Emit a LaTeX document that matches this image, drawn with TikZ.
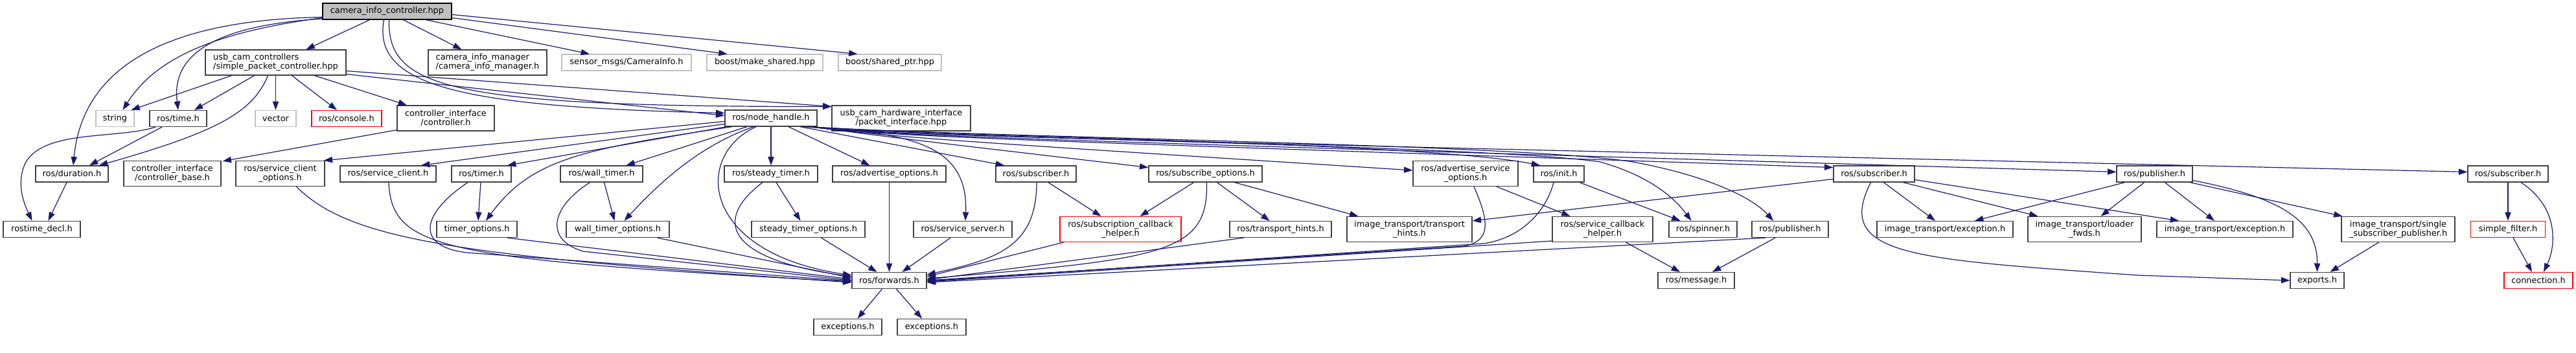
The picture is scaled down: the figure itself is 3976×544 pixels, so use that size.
\documentclass[tikz,border=0pt]{standalone}
\usepackage{fontspec}
\newfontfamily\dv{DejaVu Sans}
\usetikzlibrary{arrows.meta,calc}
\definecolor{edgeblue}{HTML}{191970}
\definecolor{ndgray}{HTML}{404040}
\definecolor{extgray}{HTML}{BFBFBF}
\definecolor{rootfill}{HTML}{BFBFBF}
\definecolor{nodered}{HTML}{FF0000}
\begin{document}
\begin{tikzpicture}[x=0.75pt,y=-0.75pt,
 nd/.style={draw=ndgray, line width=1pt, rectangle, inner sep=0pt, minimum height=18.75pt, font=\dv\fontsize{9.7}{10.5}\selectfont, align=center},
 extnd/.style={nd, draw=extgray},
 rednd/.style={nd, draw=nodered},
 rootnd/.style={nd, draw=black, fill=rootfill},
 bw/.style={minimum width=#1*0.75pt},
 tall/.style={minimum height=29.25pt},
 inc/.style={draw=edgeblue, line width=0.9pt, -{Triangle[length=10pt,width=7pt]}},
]
\fill[white] (0,0) rectangle (3976,544);
\useasboundingbox (0,0) rectangle (3976,544);

% nodes
\node[rootnd,bw=199] (C) at (597.5,17.5) {camera\_info\_controller.hpp};
\node[nd,bw=217,tall,align=left] (SPC) at (425.5,96.5) {usb\_cam\_controllers\\/simple\_packet\_controller.hpp};
\node[nd,bw=183,tall,align=left] (CIM) at (752.5,96.5) {camera\_info\_manager\\/camera\_info\_manager.h};
\node[extnd,bw=200] (SM) at (967,96.5) {sensor\_msgs/CameraInfo.h};
\node[extnd,bw=179] (MS) at (1180.5,96.5) {boost/make\_shared.hpp};
\node[extnd,bw=159] (SP) at (1373.5,96.5) {boost/shared\_ptr.hpp};
\node[extnd,bw=59] (STR) at (177.5,183) {string};
\node[nd,bw=88] (TIME) at (275,183) {ros/time.h};
\node[extnd,bw=63] (VEC) at (425.5,183) {vector};
\node[rednd,bw=108] (CON) at (535,183) {ros/console.h};
\node[nd,bw=150,tall] (CTRL) at (688,182.5) {controller\_interface\\/controller.h};
\node[nd,bw=142] (NH) at (1190,182.5) {ros/node\_handle.h};
\node[nd,bw=214,tall] (UHW) at (1391,182.5) {usb\_cam\_hardware\_interface\\/packet\_interface.hpp};
\node[nd,bw=112] (DUR) at (111,268.5) {ros/duration.h};
\node[nd,bw=150,tall] (CBASE) at (266,268) {controller\_interface\\/controller\_base.h};
\node[nd,bw=137,tall] (SCO) at (432.5,268) {ros/service\_client\\\_options.h};
\node[nd,bw=148] (SCL) at (599,268.5) {ros/service\_client.h};
\node[nd,bw=92] (TIMER) at (743,268.5) {ros/timer.h};
\node[nd,bw=127] (WT) at (928.5,268.5) {ros/wall\_timer.h};
\node[nd,bw=144] (ST) at (1190,268.5) {ros/steady\_timer.h};
\node[nd,bw=175] (AO) at (1372.5,268.5) {ros/advertise\_options.h};
\node[nd,bw=124] (SUB1) at (1599,268.5) {ros/subscriber.h};
\node[nd,bw=175] (SO) at (1860.5,268.5) {ros/subscribe\_options.h};
\node[nd,bw=162,tall] (ASO) at (2262,268) {ros/advertise\_service\\\_options.h};
\node[nd,bw=78] (INIT) at (2406,268.5) {ros/init.h};
\node[nd,bw=125] (SUB2) at (2892.5,268.5) {ros/subscriber.h};
\node[nd,bw=117] (PUB1) at (3325.5,268.5) {ros/publisher.h};
\node[nd,bw=124] (SUB3) at (3871,268.5) {ros/subscriber.h};
\node[nd,bw=119] (RTD) at (64.5,354) {rostime\_decl.h};
\node[nd,bw=124] (TO) at (736,354) {timer\_options.h};
\node[nd,bw=159] (WTO) at (953.5,354) {wall\_timer\_options.h};
\node[nd,bw=175] (STO) at (1247.5,354) {steady\_timer\_options.h};
\node[nd,bw=152] (SS) at (1486,354) {ros/service\_server.h};
\node[rednd,bw=187,tall] (SCH) at (1729.5,354) {ros/subscription\_callback\\\_helper.h};
\node[nd,bw=157] (RTH) at (1976.5,354) {ros/transport\_hints.h};
\node[nd,bw=193,tall] (ITH) at (2175.5,354) {image\_transport/transport\\\_hints.h};
\node[nd,bw=155,tall] (SCBH) at (2473.5,354) {ros/service\_callback\\\_helper.h};
\node[nd,bw=105] (SPIN) at (2628.5,354) {ros/spinner.h};
\node[nd,bw=118] (PUB2) at (2763,354) {ros/publisher.h};
\node[nd,bw=210] (EX1) at (3002,354) {image\_transport/exception.h};
\node[nd,bw=175,tall] (LF) at (3217.5,354) {image\_transport/loader\\\_fwds.h};
\node[nd,bw=210] (EX2) at (3434,354) {image\_transport/exception.h};
\node[nd,bw=175,tall] (SSP) at (3701.5,354) {image\_transport/single\\\_subscriber\_publisher.h};
\node[rednd,bw=115] (SF) at (3871,354) {simple\_filter.h};
\node[nd,bw=115] (FWD) at (1372.5,433) {ros/forwards.h};
\node[nd,bw=118] (MSG) at (2618,433) {ros/message.h};
\node[nd,bw=83] (EXP) at (3576.5,433) {exports.h};
\node[rednd,bw=106] (CONN) at (3918,433) {connection.h};
\node[nd,bw=105] (EXC1) at (1308.5,505) {exceptions.h};
\node[nd,bw=106] (EXC2) at (1438,505) {exceptions.h};

% edges from the root
\draw[inc] ($(C.south)+(-27,0)$) -- ($(SPC.north)+(47,0)$);
\draw[inc] ($(C.west)+(0,10)$) .. controls (330,50) and (240,90) .. ($(STR.north)+(12,0)$);
\draw[inc] ($(C.west)+(0,11.5)$) .. controls (320,40) and (265,90) .. (TIME.north);
\draw[inc] ($(C.west)+(0,9)$) .. controls (300,30) and (130,80) .. ($(DUR.north)+(2,0)$);
\draw[inc] ($(C.south)+(25,0)$) -- ($(CIM.north)+(-40,0)$);
\draw[inc] ($(C.south)+(60,0)$) -- ($(SM.north)+(-57,0)$);
\draw[inc] ($(C.east)+(0,10)$) -- ($(MS.north)+(-58,0)$);
\draw[inc] ($(C.east)+(0,5)$) -- ($(SP.north)+(-50,0)$);
\draw[inc] ($(C.south)+(-5,0)$) .. controls (575,130) and (700,165) .. ($(NH.west)+(0,-8)$);
\draw[inc] ($(C.south)+(3,0)$) .. controls (598,135) and (690,165) .. ($(UHW.west)+(0,-18)$);

% simple_packet_controller
\draw[inc] ($(SPC.south)+(-68,0)$) -- ($(STR.north)+(25,0)$);
\draw[inc] ($(SPC.south)+(-33,0)$) -- ($(TIME.north)+(25,0)$);
\draw[inc] ($(SPC.south)+(-12,0)$) .. controls (390,175) and (330,205) .. ($(DUR.north)+(42,0)$);
\draw[inc] (SPC.south) -- (VEC.north);
\draw[inc] ($(SPC.south)+(25,0)$) -- ($(CON.north)+(-15,0)$);
\draw[inc] ($(SPC.south)+(60,0)$) -- ($(CTRL.north)+(-60,0)$);
\draw[inc] ($(SPC.east)+(0,13)$) -- ($(UHW.west)+(0,-18)$);
\draw[inc] ($(SPC.east)+(0,18)$) -- ($(NH.west)+(0,-4)$);
\draw[inc] ($(CTRL.south west)+(0,-2)$) -- ($(CBASE.north east)+(2,1)$);

% time
\draw[inc] ($(DUR.south)+(-8,0)$) -- ($(RTD.north)+(10,0)$);
\draw[inc] ($(TIME.south)+(-25,0)$) -- ($(DUR.north)+(27,0)$);
\draw[inc] ($(TIME.south)+(-35,0)$) .. controls (180,215) and (70,200) .. (40,250) .. controls (25,280) and (35,310) .. ($(RTD.north)+(-15,0)$);

% node_handle
\draw[inc] ($(NH.west)+(0,5)$) -- ($(SCO.north east)+(-2,0)$);
\draw[inc] ($(NH.west)+(0,9)$) -- ($(SCL.north)+(51,0)$);
\draw[inc] ($(NH.south west)+(3,0)$) -- ($(TIMER.north)+(40,0)$);
\draw[inc] ($(NH.south)+(-60,0)$) .. controls (900,230) and (820,245) .. ($(TO.north)+(14,0)$);
\draw[inc] ($(NH.south)+(-37,0)$) -- ($(WT.north)+(38,0)$);
\draw[inc] ($(NH.south)+(-27,0)$) .. controls (1080,225) and (1020,280) .. ($(WTO.north)+(10,0)$);
\draw[inc] ($(NH.south)+(-23,0)$) .. controls (1070,240) and (1080,390) .. ($(FWD.west)+(0,-8)$);
\draw[inc] (NH.south) -- (ST.north);
\draw[inc] ($(NH.south)+(27,0)$) -- ($(AO.north)+(-30,0)$);
\draw[inc] ($(NH.south)+(50,0)$) .. controls (1400,205) and (1495,220) .. ($(SS.north)+(4,0)$);
\draw[inc] ($(NH.south)+(45,0)$) -- ($(SUB1.north)+(-49,0)$);
\draw[inc] ($(NH.south east)+(-11,0)$) .. controls (1400,215) .. ($(SO.west)+(0,-10)$);
\draw[inc] ($(NH.south east)+(-12,0)$) .. controls (1400,213) .. ($(ASO.west)+(0,-5)$);
\draw[inc] ($(NH.south east)+(-13,0)$) .. controls (1500,212) and (2200,220) .. ($(INIT.north)+(-29,0)$);
\draw[inc] ($(NH.south east)+(-13,0)$) .. controls (1500,215) and (2300,225) .. (2470,250) .. controls (2540,270) and (2580,300) .. ($(SPIN.north)+(-18,0)$);
\draw[inc] ($(NH.south east)+(-13,0)$) .. controls (1500,212) and (2350,222) .. (2520,250) .. controls (2620,268) and (2700,300) .. ($(PUB2.north)+(-26,0)$);
\draw[inc] ($(NH.south east)+(-14,0)$) .. controls (1400,211) .. ($(SUB2.west)+(0,-10)$);
\draw[inc] ($(NH.south east)+(-15,0)$) .. controls (1400,210) .. ($(PUB1.west)+(0,-3)$);
\draw[inc] ($(NH.south east)+(-16,0)$) .. controls (1400,209) .. ($(SUB3.west)+(0,-3)$);

% third row to lower rows
\draw[inc] ($(SCO.south)+(25,0)$) .. controls (540,370) and (700,395) .. ($(FWD.west)+(0,3)$);
\draw[inc] ($(SCL.south)+(1,0)$) .. controls (605,385) and (680,400) .. ($(FWD.west)+(0,2)$);
\draw[inc] ($(TIMER.south)+(-1,0)$) -- ($(TO.north)+(2,0)$);
\draw[inc] ($(TIMER.south)+(-21,0)$) .. controls (650,330) and (640,380) .. (720,390) -- ($(FWD.west)+(0,1)$);
\draw[inc] ($(TO.south)+(47,0)$) -- ($(FWD.west)+(0,-2)$);
\draw[inc] ($(WT.south)+(4,0)$) -- ($(WTO.north)+(-5,0)$);
\draw[inc] ($(WT.south)+(-18,0)$) .. controls (850,320) and (840,370) .. (900,388) -- (FWD.west);
\draw[inc] ($(WTO.south)+(61,0)$) -- ($(FWD.west)+(0,-4)$);
\draw[inc] ($(ST.south)+(8,0)$) -- ($(STO.north)+(-12,0)$);
\draw[inc] ($(ST.south)+(-13,0)$) .. controls (1100,340) and (1120,400) .. ($(FWD.west)+(0,-6)$);
\draw[inc] ($(STO.south)+(20,0)$) -- ($(FWD.north)+(-19,0)$);
\draw[inc] (AO.south) -- (FWD.north);
\draw[inc] ($(SS.south)+(-19,0)$) -- ($(FWD.north)+(20,0)$);
\draw[inc] ($(SUB1.south)+(1,0)$) .. controls (1600,380) and (1540,400) .. ($(FWD.east)+(0,-9)$);
\draw[inc] ($(SUB1.south)+(19,0)$) -- ($(SCH.north)+(-30,0)$);
\draw[inc] ($(SO.south)+(-18,0)$) -- ($(SCH.north)+(30,0)$);
\draw[inc] ($(SO.south)+(2,0)$) .. controls (1865,390) and (1800,400) .. ($(FWD.east)+(0,-3)$);
\draw[inc] ($(SO.south)+(18,0)$) -- ($(RTH.north)+(-17,0)$);
\draw[inc] ($(SO.south)+(45,0)$) -- ($(ITH.north)+(-79,0)$);
\draw[inc] ($(RTH.south)+(-57,0)$) -- ($(FWD.east)+(0,-1)$);
\draw[inc] ($(SCH.south)+(-88,0)$) -- ($(FWD.east)+(0,-6)$);
\draw[inc] ($(ASO.south)+(13,0)$) .. controls (2300,345) and (2300,372) .. (2260,380) -- (FWD.east);
\draw[inc] ($(ASO.south)+(48,0)$) -- ($(SCBH.north)+(-50,0)$);
\draw[inc] ($(INIT.south)+(-8,0)$) .. controls (2385,330) and (2345,368) .. (2290,376) -- ($(FWD.east)+(0,1)$);
\draw[inc] ($(INIT.south)+(32,0)$) -- ($(SPIN.north)+(-35,0)$);
\draw[inc] ($(SCBH.west)+(0,18)$) -- ($(FWD.east)+(0,2)$);
\draw[inc] ($(SCBH.south)+(36,0)$) -- ($(MSG.north)+(-25,0)$);
\draw[inc] ($(PUB2.south)+(-38,0)$) -- ($(FWD.east)+(0,3)$);
\draw[inc] ($(PUB2.south)+(-23,0)$) -- ($(MSG.north)+(25,0)$);
\draw[inc] ($(SUB2.west)+(0,8)$) -- ($(ITH.east)+(0,-13)$);
\draw[inc] ($(SUB2.south)+(15,0)$) -- ($(EX1.north)+(-15,0)$);
\draw[inc] ($(SUB2.south)+(45,0)$) -- ($(LF.north)+(-72,0)$);
\draw[inc] ($(SUB2.east)+(0,9)$) -- ($(EX2.north)+(-71,0)$);
\draw[inc] ($(SUB2.south)+(-5,0)$) .. controls (2830,395) and (2950,400) .. (3300,425) -- (EXP.west);
\draw[inc] ($(PUB1.south)+(-46,0)$) -- ($(EX1.north)+(46,0)$);
\draw[inc] ($(PUB1.south)+(-16,0)$) -- ($(LF.north)+(25,0)$);
\draw[inc] ($(PUB1.south)+(16,0)$) -- ($(EX2.north)+(-16,0)$);
\draw[inc] ($(PUB1.south)+(55,0)$) -- ($(SSP.north)+(-86,0)$);
\draw[inc] ($(PUB1.east)+(0,10)$) .. controls (3520,305) and (3577,340) .. (EXP.north);
\draw[inc] ($(SSP.south)+(-30,0)$) -- ($(EXP.north)+(20,0)$);
\draw[inc] (SUB3.south) -- (SF.north);
\draw[inc] ($(SUB3.south)+(20,0)$) .. controls (3950,320) and (3945,380) .. ($(CONN.north)+(8,0)$);
\draw[inc] ($(SF.south)+(8,0)$) -- ($(CONN.north)+(-10,0)$);
\draw[inc] ($(FWD.south)+(-11,0)$) -- ($(EXC1.north)+(15,0)$);
\draw[inc] ($(FWD.south)+(11,0)$) -- ($(EXC2.north)+(-15,0)$);
\end{tikzpicture}
\end{document}
